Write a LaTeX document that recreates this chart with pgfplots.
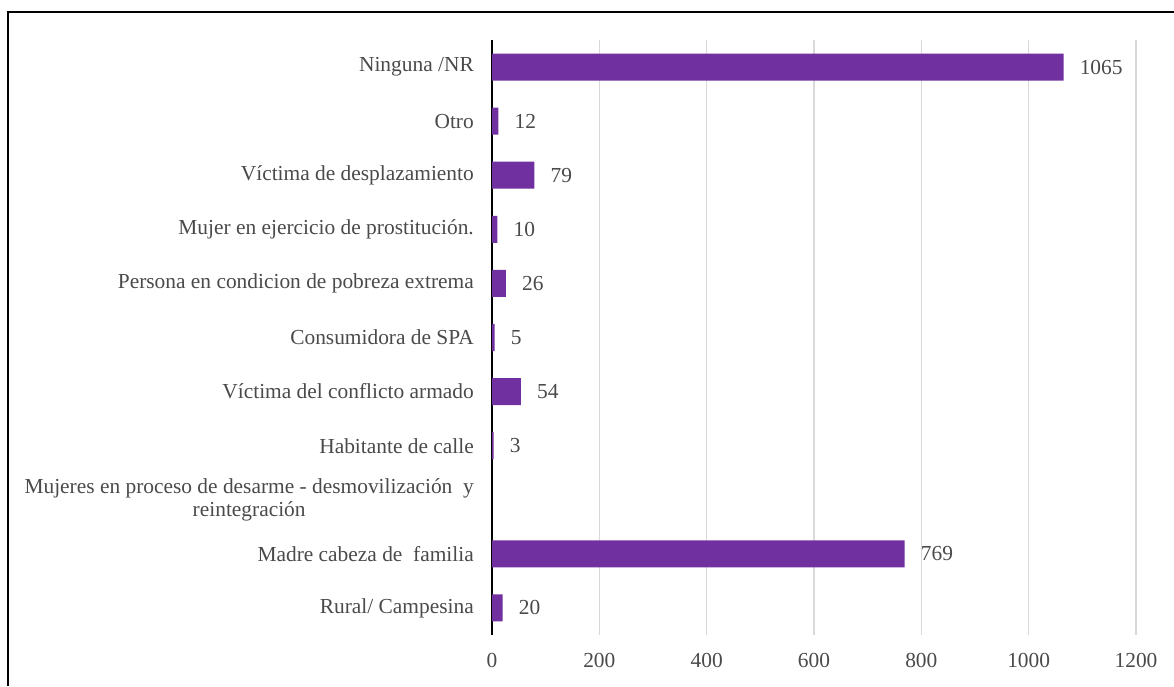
\documentclass[border=0pt]{standalone}
\usepackage{fontspec}
\setmainfont{Liberation Serif}
\usepackage{pgfplots}
\pgfplotsset{compat=1.18}
\definecolor{barpurple}{HTML}{7030A0}
\definecolor{labgray}{HTML}{4A4A4A}
\definecolor{gridgray}{HTML}{D9D9D9}
\begin{document}
\begin{tikzpicture}[x=1pt,y=1pt]
\begin{axis}[
  at={(492pt,51pt)}, anchor=south west,
  width=644pt, height=595pt, scale only axis,
  xbar, bar width=27pt,
  xmin=0, xmax=1200, ymin=-0.5, ymax=10.5,
  enlargelimits=false,
  xtick={0,200,...,1200},
  ytick={0,...,10},
  yticklabels={Rural/ Campesina, Madre cabeza de\ \ familia, {Mujeres en proceso de desarme - desmovilización\ \ y\\reintegración}, Habitante de calle, Víctima del conflicto armado, Consumidora de SPA, Persona en condicion de pobreza extrema, Mujer en ejercicio de prostitución., Víctima de desplazamiento, Otro, Ninguna /NR},
  /pgf/number format/1000 sep={},
  /pgf/number format/assume math mode=true,
  major tick length=0pt,
  axis lines*=left,
  axis line style={-},
  x axis line style={draw=none},
  y axis line style={draw=black, line width=1.3pt},
  xmajorgrids,
  major grid style={draw=gridgray, line width=1.5pt},
  tick label style={font=\fontsize{21.4}{23}\selectfont, text=labgray},
  xticklabel style={inner sep=0pt, anchor=north, yshift=-18pt},
  yticklabel style={inner sep=0pt, anchor=east, xshift=-18pt, align=center},
  nodes near coords,
  nodes near coords style={font=\fontsize{21.4}{23}\selectfont, text=labgray, anchor=west, inner sep=0pt, xshift=16pt},
]
\addplot[fill=barpurple, draw=none] coordinates {
  (20,0) (769,1) (3,3) (54,4) (5,5) (26,6) (10,7) (79,8) (12,9) (1065,10)
};
\end{axis}
\draw[line width=1.5pt, black] (8,0) -- (8,674) -- (1174,674);
\pgfresetboundingbox
\useasboundingbox (0,0) rectangle (1174,686);
\end{tikzpicture}
\end{document}
